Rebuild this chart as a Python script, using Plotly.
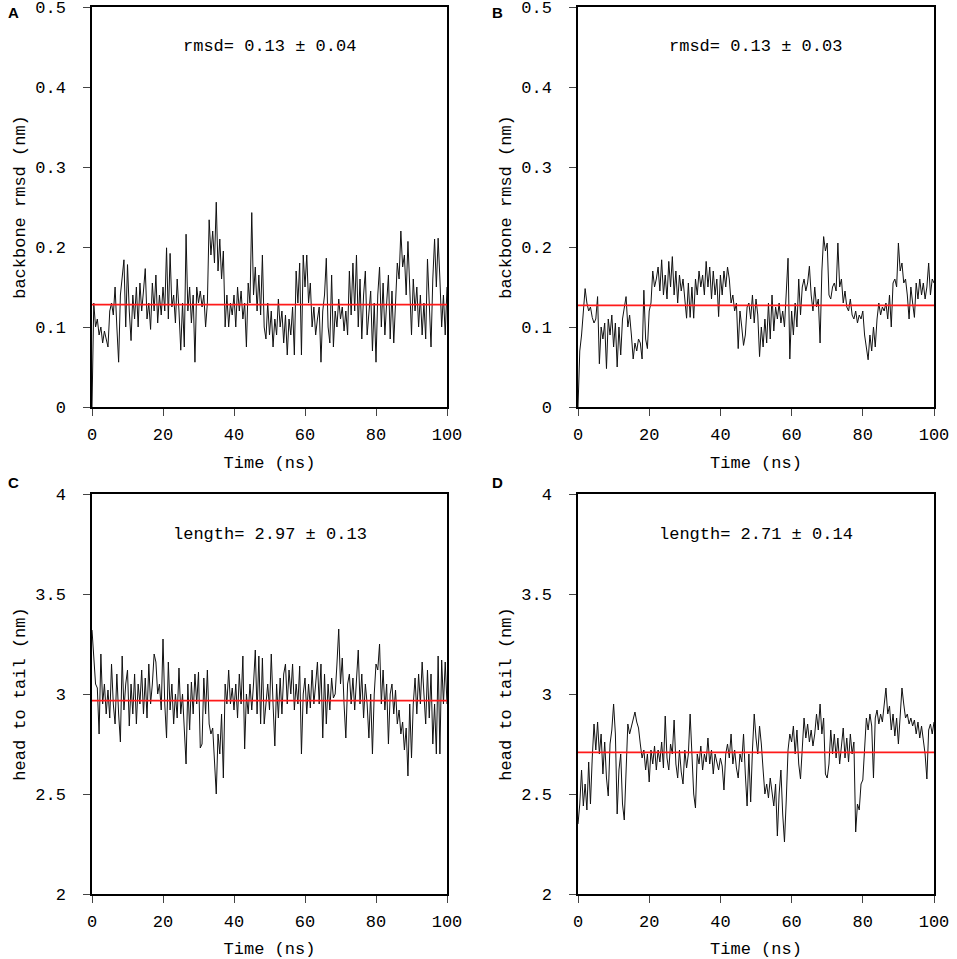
import plotly.graph_objects as go
from plotly.subplots import make_subplots

# time axis: 0 .. 100 ns every 0.5 ns
time_ns = [i * 0.5 for i in range(201)]

# A: backbone rmsd (nm)
rmsd_a = [
    0.00, 0.13, 0.10, 0.11, 0.09, 0.10, 0.08, 0.095, 0.085, 0.075,
    0.12, 0.13, 0.115, 0.15, 0.10, 0.056, 0.14, 0.163, 0.184, 0.10,
    0.178, 0.12, 0.083, 0.14, 0.11, 0.15, 0.10, 0.155, 0.12, 0.145,
    0.173, 0.11, 0.13, 0.097, 0.155, 0.12, 0.165, 0.105, 0.14, 0.115,
    0.15, 0.12, 0.199, 0.11, 0.192, 0.125, 0.14, 0.105, 0.16, 0.12,
    0.071, 0.13, 0.075, 0.216, 0.12, 0.15, 0.105, 0.14, 0.056, 0.15,
    0.13, 0.145, 0.125, 0.14, 0.10, 0.13, 0.234, 0.19, 0.22, 0.18,
    0.256, 0.17, 0.21, 0.16, 0.195, 0.10, 0.14, 0.10, 0.13, 0.115,
    0.14, 0.10, 0.15, 0.12, 0.145, 0.11, 0.13, 0.075, 0.155, 0.13,
    0.243, 0.14, 0.175, 0.12, 0.165, 0.115, 0.19, 0.10, 0.085, 0.13,
    0.09, 0.12, 0.075, 0.11, 0.09, 0.135, 0.10, 0.12, 0.08, 0.115,
    0.065, 0.11, 0.09, 0.125, 0.065, 0.17, 0.13, 0.18, 0.065, 0.19,
    0.15, 0.19, 0.13, 0.155, 0.10, 0.125, 0.09, 0.11, 0.125, 0.056,
    0.12, 0.14, 0.186, 0.10, 0.08, 0.165, 0.075, 0.12, 0.10, 0.135,
    0.11, 0.125, 0.095, 0.12, 0.09, 0.17, 0.115, 0.18, 0.12, 0.19,
    0.10, 0.16, 0.085, 0.14, 0.17, 0.09, 0.12, 0.145, 0.07, 0.13,
    0.056, 0.14, 0.175, 0.10, 0.155, 0.09, 0.13, 0.165, 0.085, 0.145,
    0.08, 0.13, 0.18, 0.16, 0.22, 0.175, 0.19, 0.14, 0.207, 0.15,
    0.09, 0.16, 0.12, 0.15, 0.10, 0.14, 0.09, 0.13, 0.085, 0.185,
    0.12, 0.075, 0.16, 0.21, 0.15, 0.211, 0.16, 0.10, 0.14, 0.09,
    0.15,
]

# B: backbone rmsd (nm)
rmsd_b = [
    0.00, 0.07, 0.09, 0.117, 0.148, 0.13, 0.12, 0.125, 0.112, 0.105,
    0.11, 0.138, 0.054, 0.10, 0.085, 0.105, 0.048, 0.11, 0.09, 0.115,
    0.075, 0.105, 0.05, 0.10, 0.065, 0.11, 0.125, 0.138, 0.10, 0.115,
    0.09, 0.06, 0.08, 0.07, 0.085, 0.08, 0.06, 0.146, 0.085, 0.073,
    0.12, 0.13, 0.17, 0.15, 0.16, 0.175, 0.145, 0.184, 0.14, 0.165,
    0.135, 0.182, 0.15, 0.188, 0.14, 0.17, 0.13, 0.165, 0.145, 0.16,
    0.135, 0.111, 0.155, 0.112, 0.15, 0.111, 0.16, 0.14, 0.17, 0.15,
    0.165, 0.14, 0.182, 0.15, 0.175, 0.135, 0.17, 0.14, 0.16, 0.113,
    0.165, 0.14, 0.17, 0.15, 0.175, 0.16, 0.13, 0.14, 0.12, 0.13,
    0.073, 0.12, 0.10, 0.077, 0.09, 0.125, 0.13, 0.11, 0.14, 0.105,
    0.135, 0.115, 0.063, 0.10, 0.075, 0.11, 0.08, 0.13, 0.085, 0.14,
    0.095, 0.125, 0.11, 0.13, 0.105, 0.12, 0.10, 0.15, 0.186, 0.06,
    0.12, 0.09, 0.13, 0.10, 0.16, 0.115, 0.15, 0.16, 0.145, 0.155,
    0.176, 0.14, 0.12, 0.15, 0.125, 0.135, 0.08, 0.17, 0.213, 0.195,
    0.205, 0.14, 0.135, 0.15, 0.155, 0.145, 0.205, 0.15, 0.16, 0.13,
    0.145, 0.125, 0.12, 0.135, 0.115, 0.11, 0.12, 0.105, 0.115, 0.11,
    0.12, 0.09, 0.075, 0.059, 0.09, 0.07, 0.10, 0.075, 0.11, 0.13,
    0.115, 0.125, 0.12, 0.13, 0.11, 0.14, 0.10, 0.155, 0.16, 0.15,
    0.205, 0.17, 0.18, 0.155, 0.16, 0.14, 0.11, 0.15, 0.13, 0.112,
    0.155, 0.135, 0.16, 0.14, 0.155, 0.135, 0.15, 0.18, 0.14, 0.16,
    0.155,
]

# C: head to tail (nm)
length_c = [
    3.32, 3.15, 3.05, 3.03, 2.80, 3.20, 2.95, 3.05, 2.90, 3.02,
    2.88, 3.15, 2.95, 2.85, 3.10, 2.90, 2.76, 3.19, 2.92, 3.05,
    3.12, 2.84, 3.05, 2.90, 3.10, 2.85, 3.05, 2.95, 3.12, 2.90,
    3.08, 2.88, 3.15, 2.95, 3.05, 3.20, 3.16, 3.00, 3.05, 2.92,
    3.275, 2.95, 2.78, 3.16, 2.92, 3.05, 2.85, 3.00, 2.88, 3.13,
    2.90, 3.00, 2.85, 2.65, 3.05, 2.82, 3.06, 2.90, 3.10, 2.95,
    3.11, 2.73, 2.75, 3.08, 2.90, 3.12, 2.85, 2.80, 2.83, 2.65,
    2.50, 2.80, 2.70, 2.90, 2.58, 3.05, 2.95, 3.12, 2.95, 3.03,
    2.92, 3.05, 2.88, 3.10, 2.95, 3.19, 2.725, 3.00, 2.90, 3.05,
    2.92, 3.05, 3.22, 2.90, 3.19, 2.85, 3.18, 2.85, 2.97, 3.05,
    2.92, 3.20, 2.95, 2.74, 3.05, 2.88, 3.08, 2.90, 3.10, 3.15,
    2.95, 3.12, 3.00, 3.15, 2.92, 3.05, 2.95, 3.14, 2.70, 3.00,
    3.08, 2.90, 3.05, 2.93, 3.12, 2.95, 3.05, 3.16, 2.95, 3.15,
    2.78, 3.10, 2.85, 3.05, 2.92, 3.08, 2.98, 3.00, 3.15, 3.325,
    3.05, 3.18, 2.95, 2.78, 3.05, 3.10, 2.95, 3.08, 2.92, 3.05,
    3.22, 2.95, 3.10, 2.88, 3.05, 2.95, 2.78, 3.00, 2.70, 3.00,
    3.15, 3.12, 3.25, 2.95, 3.12, 2.92, 3.05, 2.75, 3.00, 3.05,
    2.90, 3.02, 2.85, 2.92, 2.80, 2.86, 2.72, 2.83, 2.59, 2.95,
    2.68, 2.95, 3.08, 2.90, 3.10, 2.95, 3.16, 3.00, 2.85, 3.12,
    2.88, 3.10, 2.75, 2.95, 2.70, 3.19, 2.70, 3.17, 2.95, 3.16,
    2.95,
]

# D: head to tail (nm)
length_d = [
    2.35, 2.45, 2.62, 2.44, 2.55, 2.42, 2.66, 2.45, 2.68, 2.85,
    2.72, 2.86, 2.70, 2.80, 2.60, 2.76, 2.58, 2.49, 2.75, 2.82,
    2.95, 2.80, 2.40, 2.62, 2.70, 2.45, 2.37, 2.65, 2.85, 2.80,
    2.84, 2.88, 2.91, 2.86, 2.83, 2.75, 2.68, 2.72, 2.62, 2.70,
    2.56, 2.72, 2.65, 2.74, 2.62, 2.72, 2.66, 2.76, 2.63, 2.89,
    2.68, 2.62, 2.75, 2.70, 2.87, 2.65, 2.58, 2.72, 2.61, 2.55,
    2.72, 2.63, 2.70, 2.90, 2.68, 2.50, 2.43, 2.70, 2.65, 2.74,
    2.62, 2.70, 2.66, 2.78, 2.65, 2.72, 2.60, 2.70, 2.66, 2.62,
    2.68, 2.64, 2.52, 2.70, 2.75, 2.68, 2.80, 2.65, 2.72, 2.63,
    2.58, 2.70, 2.66, 2.80, 2.60, 2.44, 2.70, 2.46, 2.72, 2.90,
    2.78, 2.70, 2.84, 2.75, 2.62, 2.50, 2.55, 2.48, 2.58, 2.50,
    2.44, 2.55, 2.29, 2.50, 2.62, 2.40, 2.26, 2.47, 2.72, 2.80,
    2.76, 2.84, 2.70, 2.82, 2.65, 2.575, 2.75, 2.88, 2.78, 2.85,
    2.76, 2.82, 2.74, 2.80, 2.90, 2.82, 2.95, 2.80, 2.88, 2.60,
    2.58, 2.65, 2.82, 2.70, 2.80, 2.68, 2.78, 2.65, 2.74, 2.83,
    2.68, 2.78, 2.66, 2.80, 2.70, 2.76, 2.31, 2.45, 2.42, 2.55,
    2.57, 2.72, 2.88, 2.82, 2.90, 2.84, 2.58, 2.88, 2.92, 2.85,
    2.90, 2.86, 2.95, 3.03, 2.90, 2.94, 2.82, 2.90, 2.79, 2.88,
    2.75, 2.92, 3.03, 2.95, 2.88, 2.90, 2.85, 2.88, 2.84, 2.87,
    2.80, 2.86, 2.78, 2.84, 2.76, 2.70, 2.575, 2.82, 2.85, 2.80,
    2.86,
]

panel_letters = ["A", "B", "C", "D"]
mean_values = [0.128, 0.127, 2.967, 2.708]
stat_labels = [
    "rmsd= 0.13 \u00b1 0.04",
    "rmsd= 0.13 \u00b1 0.03",
    "length= 2.97 \u00b1 0.13",
    "length= 2.71 \u00b1 0.14",
]
y_titles = ["backbone rmsd (nm)", "backbone rmsd (nm)",
            "head to tail (nm)", "head to tail (nm)"]
x_ticks = [0, 20, 40, 60, 80, 100]
rmsd_ticks = [0, 0.1, 0.2, 0.3, 0.4, 0.5]
rmsd_ticktext = ["0", "0.1", "0.2", "0.3", "0.4", "0.5"]
length_ticks = [2, 2.5, 3, 3.5, 4]
length_ticktext = ["2", "2.5", "3", "3.5", "4"]

series = [rmsd_a, rmsd_b, length_c, length_d]
cells = [(1, 1), (1, 2), (2, 1), (2, 2)]

W, H = 957, 959
x_dom = [[92 / W, 447 / W], [578 / W, 934 / W]]
y_dom = [[1 - 407 / H, 1 - 7 / H], [1 - 894 / H, 1 - 494 / H]]
letter_y = [13, 482]   # pixel rows of the panel letters

MONO = "Liberation Mono, Courier New, monospace"
FS = 17

fig = make_subplots(rows=2, cols=2)

for k, (r, c) in enumerate(cells):
    fig.add_trace(go.Scatter(
        x=time_ns, y=series[k], mode="lines",
        line=dict(color="#111111", width=1),
        showlegend=False, hoverinfo="x+y",
    ), row=r, col=c)
    fig.add_trace(go.Scatter(
        x=[time_ns[0], time_ns[-1]], y=[mean_values[k]] * 2, mode="lines",
        line=dict(color="#ff1a1a", width=1.6),
        showlegend=False, hoverinfo="y",
    ), row=r, col=c)

    is_rmsd = r == 1
    fig.update_xaxes(
        domain=x_dom[c - 1], range=[0, 100], automargin=False,
        tickvals=x_ticks, ticks="outside", ticklen=7, tickwidth=1.2,
        ticklabelstandoff=4, ticklabeloverflow="allow",
        showline=True, mirror=True, linecolor="black", linewidth=1.5,
        showgrid=False, zeroline=False,
        tickfont=dict(family=MONO, size=FS, color="black"),
        title=dict(text="Time (ns)", standoff=12,
                   font=dict(family=MONO, size=FS, color="black")),
        row=r, col=c,
    )
    fig.update_yaxes(
        domain=y_dom[r - 1], automargin=False,
        range=[0, 0.5] if is_rmsd else [2, 4],
        tickvals=rmsd_ticks if is_rmsd else length_ticks,
        ticktext=rmsd_ticktext if is_rmsd else length_ticktext,
        ticks="outside", ticklen=7, tickwidth=1.2,
        ticklabelstandoff=14, ticklabeloverflow="allow",
        showline=True, mirror=True, linecolor="black", linewidth=1.5,
        showgrid=False, zeroline=False,
        tickfont=dict(family=MONO, size=FS, color="black"),
        title=dict(text=y_titles[k], standoff=5,
                   font=dict(family=MONO, size=FS, color="black")),
        row=r, col=c,
    )

    xd, yd = x_dom[c - 1], y_dom[r - 1]
    # mean +/- sd label inside each panel
    fig.add_annotation(
        x=(xd[0] + xd[1]) / 2, y=yd[1] - 40 / H,
        xref="paper", yref="paper", text=stat_labels[k], showarrow=False,
        xanchor="center", yanchor="middle",
        font=dict(family=MONO, size=FS, color="black"),
    )
    # panel letter
    fig.add_annotation(
        x=(13 if c == 1 else 497) / W, y=1 - letter_y[r - 1] / H,
        xref="paper", yref="paper", text="<b>%s</b>" % panel_letters[k],
        showarrow=False, xanchor="center", yanchor="middle",
        font=dict(family="Liberation Sans, Arial, sans-serif", size=15, color="black"),
    )

fig.update_layout(
    width=W, height=H, autosize=False,
    margin=dict(l=0, r=0, t=0, b=0),
    paper_bgcolor="white", plot_bgcolor="white",
)

# no page margin and no scrollbars, so the figure fills the window exactly
page_fix = (
    "document.body.style.margin='0px';"
    "document.body.style.overflow='hidden';"
    "document.documentElement.style.overflow='hidden';"
)
fig.write_html("out.html", post_script=page_fix,
               config={"displayModeBar": False})
